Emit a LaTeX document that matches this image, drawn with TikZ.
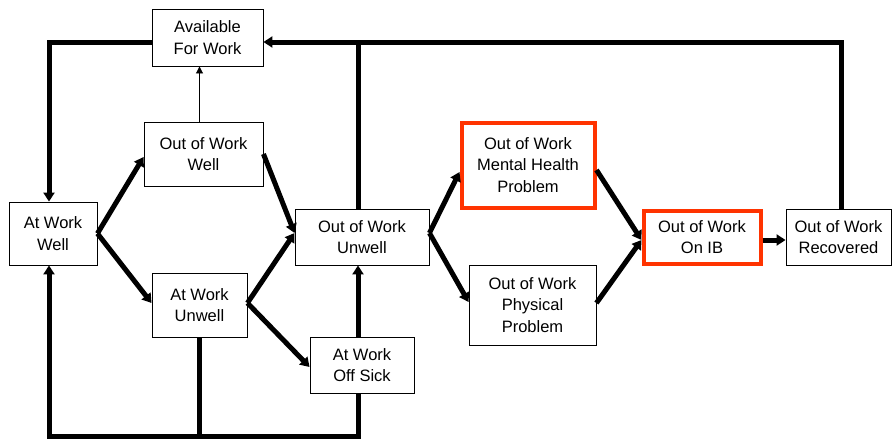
\documentclass[tikz,border=0pt]{standalone}
\usepackage{fontspec}
\setmainfont{Liberation Sans}
\usetikzlibrary{arrows.meta,calc}
\definecolor{hired}{RGB}{255,51,0}
\tikzset{
  box/.style={draw=black, line width=0.9pt, fill=white, align=center, inner sep=0pt,
    font=\fontsize{16.5}{21.5}\selectfont},
  redbox/.style={box, draw=hired, line width=4pt},
  thk/.style={line width=5pt, line join=miter, -{Triangle[length=9pt,width=11pt]}},
  thkplain/.style={line width=5pt, line join=miter},
  thin/.style={line width=0.9pt, -{Triangle[length=7pt,width=7pt]}}
}
\begin{document}
\begin{tikzpicture}[x=1pt,y=-1pt]
\useasboundingbox (0,0) rectangle (892,440);
\node[box, minimum width=111pt, minimum height=57pt] (afw) at (207.5,37.5) {Available\\For Work};
\node[box, minimum width=119pt, minimum height=64pt] (oww) at (203.5,154) {Out of Work\\Well};
\node[box, minimum width=88pt, minimum height=63pt] (aww) at (53,233.5) {At Work\\Well};
\node[box, minimum width=134pt, minimum height=56pt] (owu) at (362,237) {Out of Work\\Unwell};
\node[box, minimum width=95pt, minimum height=64pt] (awu) at (199.5,305) {At Work\\Unwell};
\node[box, minimum width=104pt, minimum height=56pt] (aos) at (362,365) {At Work\\Off Sick};
\node[redbox, minimum width=133pt, minimum height=85pt] (mhp) at (528,165) {Out of Work\\Mental Health\\Problem};
\node[box, minimum width=127pt, minimum height=80pt] (pp) at (532.5,305) {Out of Work\\Physical\\Problem};
\node[redbox, minimum width=117pt, minimum height=53pt] (ib) at (702,237) {Out of Work\\On IB};
\node[box, minimum width=105pt, minimum height=56pt] (rec) at (838.5,237) {Out of Work\\Recovered};
\coordinate (top) at (0,42);
\coordinate (bot) at (0,436.5);

% top return lines
\draw[thk] ([xshift=2.5pt]rec.north) |- ([yshift=-4.5pt]afw.east);
\draw[thkplain] ([xshift=-4pt]owu.north) -- ([xshift=-4pt]owu.north |- top);
\draw[thk] ([yshift=-4.5pt]afw.west) -| ([xshift=-4pt]aww.north);
\draw[thin] ([xshift=-4pt]oww.north) -- ([xshift=-4pt]oww.north |- afw.south);

% left part
\draw[thk] (aww.east) -- ([yshift=-3pt]oww.west);
\draw[thk] (aww.east) -- ([yshift=2pt]awu.west);
\draw[thk] (oww.east) -- ([yshift=4pt]owu.west);
\draw[thk] ([yshift=2pt]awu.east) -- ([yshift=4pt]owu.west);
\draw[thk] ([yshift=2pt]awu.east) -- ([yshift=-2pt]aos.west);
\draw[thk] ([xshift=-4pt]aos.north) -- ([xshift=-4pt]owu.south);

% bottom return
\draw[thkplain] (awu.south) -- (awu.south |- bot);
\draw[thk] ([xshift=-4pt]aos.south) -- ([xshift=-4pt]aos.south |- bot) -| ([xshift=-4pt]aww.south);

% right part
\draw[thk] ([yshift=4pt]owu.east) -- ([yshift=-7pt]mhp.west);
\draw[thk] ([yshift=4pt]owu.east) -- ([yshift=3pt]pp.west);
\draw[thk] ([yshift=-5pt]mhp.east) -- ([yshift=-3pt]ib.west);
\draw[thk] ([yshift=2pt]pp.east) -- ([yshift=-3pt]ib.west);
\draw[thk] ([yshift=-3pt]ib.east) -- ([yshift=-3pt]rec.west);
\end{tikzpicture}
\end{document}
